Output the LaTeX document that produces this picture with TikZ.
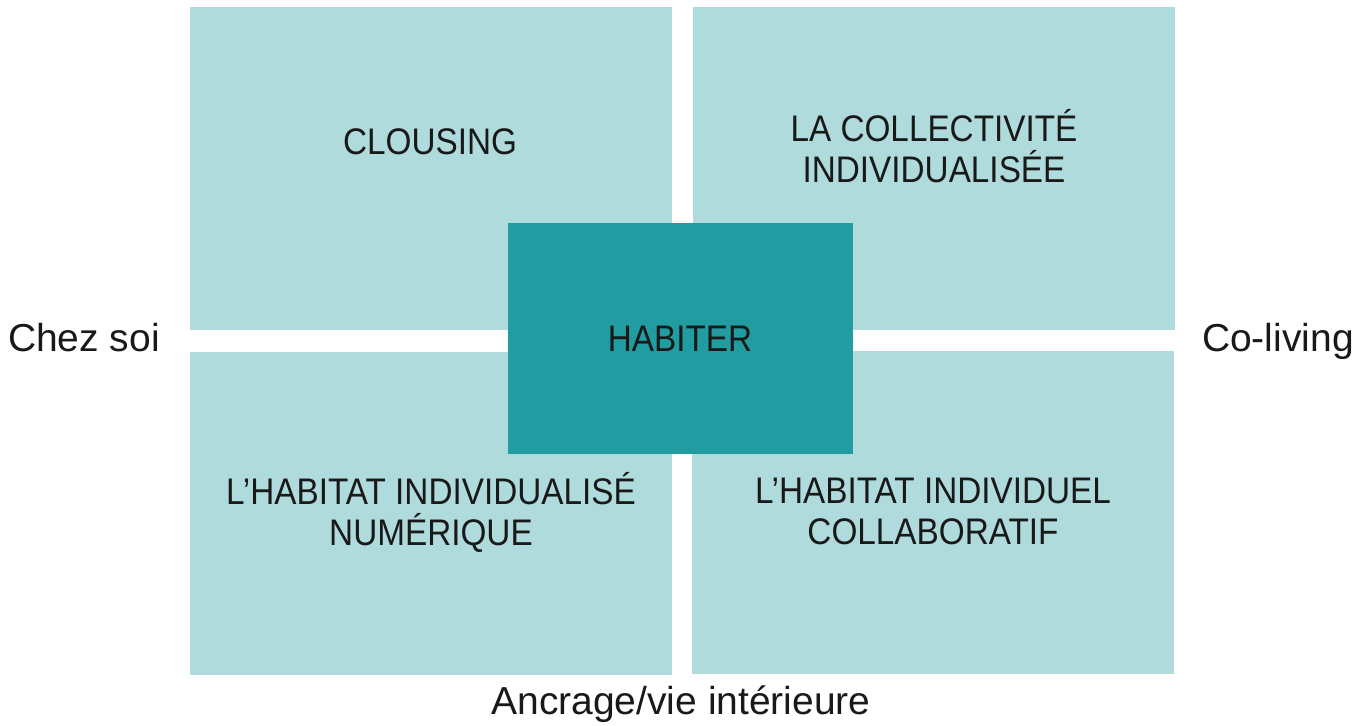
\documentclass[tikz,border=0pt]{standalone}
\usepackage{fontspec}
\setmainfont{Liberation Sans}[FakeStretch=0.9]
\newfontfamily\sidefont{Liberation Sans}
\definecolor{paleteal}{HTML}{B0DBDC}
\definecolor{deepteal}{HTML}{219CA0}
\tikzset{
  quad/.style={fill=paleteal, anchor=north west, inner sep=0pt, outer sep=0pt,
    minimum width=241pt, minimum height=161.5pt},
  lbl/.style={font=\fontsize{18.5}{20.5}\selectfont, align=center, text=black!90,
    inner sep=0pt, anchor=base},
  side/.style={font=\sidefont\fontsize{19.5}{22}\selectfont, text=black!90,
    inner sep=0pt, anchor=base}
}
\begin{document}
\begin{tikzpicture}[x=0.5pt, y=-0.5pt]
\useasboundingbox (0,0) rectangle (1356,726);
% the four quadrants
\foreach \n/\x/\y in {tl/190/7, tr/693/7, bl/190/352, br/692/351}
  \node[quad] (\n) at (\x,\y) {};
% centre block
\node[quad, fill=deepteal, minimum width=172.5pt, minimum height=115.5pt]
  (habiter) at (508,223) {};
\node[lbl] (habiterlbl) at (680,352) {HABITER};

% base of a two-line label is its last line
\node[lbl] (clousing) at (430,155) {CLOUSING};
\node[lbl] (collectif) at (934,183) {LA COLLECTIVITÉ\\INDIVIDUALISÉE};
\node[lbl] (numerique) at (431,546) {L’HABITAT INDIVIDUALISÉ\\NUMÉRIQUE};
\node[lbl] (collab) at (933,545) {L’HABITAT INDIVIDUEL\\COLLABORATIF};

% axis labels
\node[side] (chezsoi) at (84,352) {Chez soi};
\node[side] (coliving) at (1278,352) {Co-living};
\node[side] (ancrage) at (681,715) {Ancrage/vie intérieure};
\end{tikzpicture}
\end{document}
